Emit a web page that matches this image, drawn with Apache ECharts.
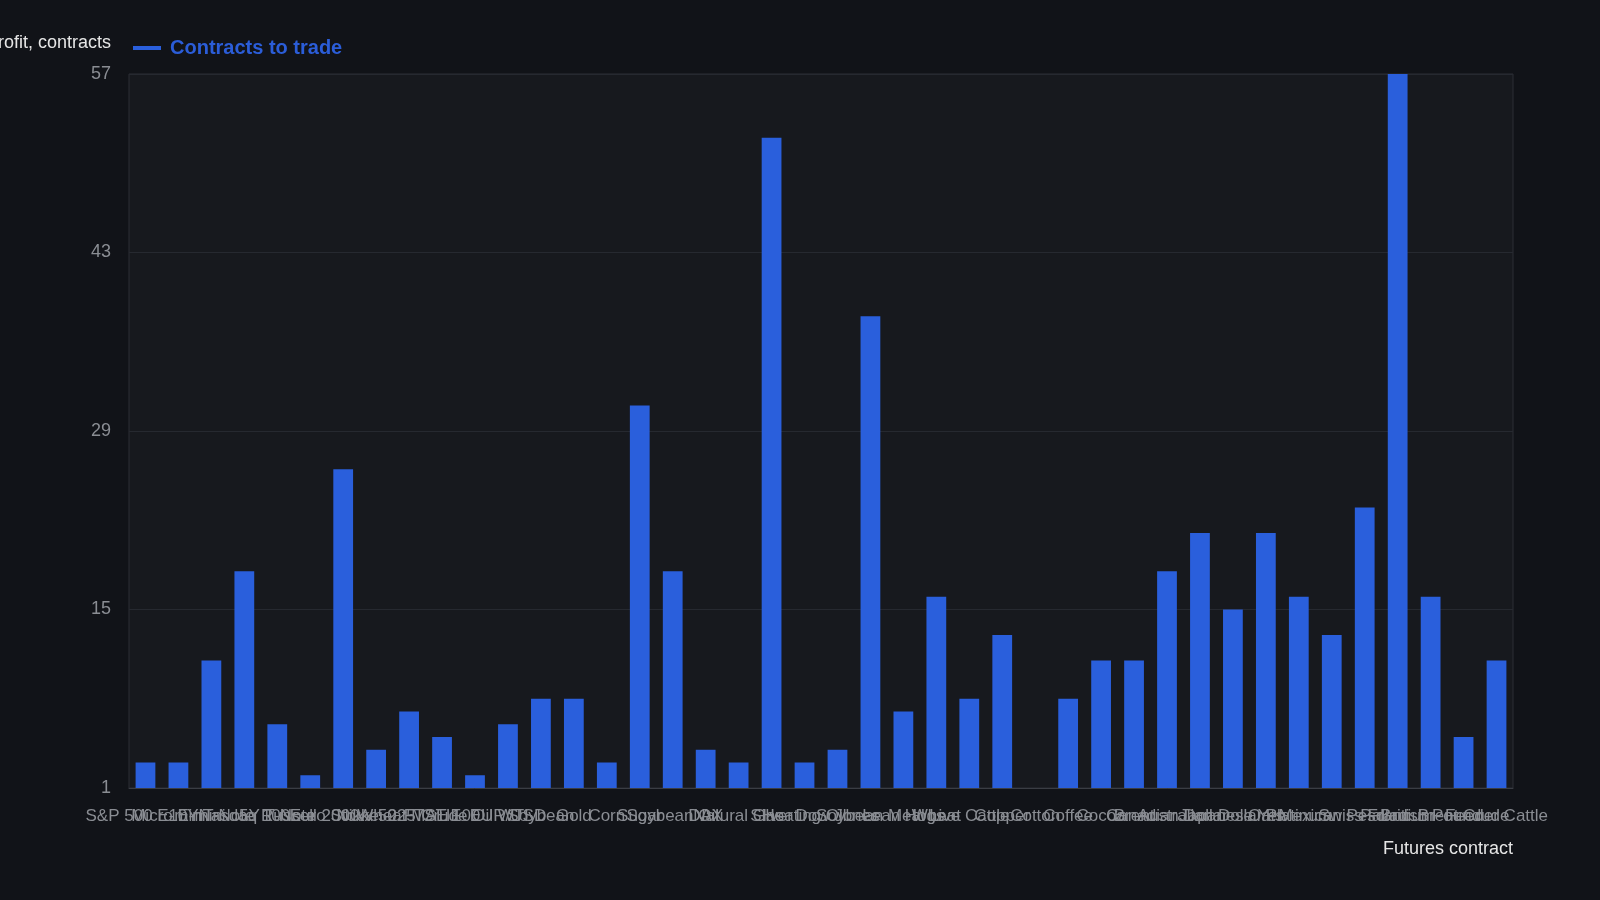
<!DOCTYPE html>
<html>
<head>
<meta charset="utf-8">
<script src="https://cdn.jsdelivr.net/npm/echarts@6/dist/echarts.min.js"></script>
<style>
  html, body { margin: 0; padding: 0; background: #111318; }
  #chart { width: 1600px; height: 900px; }
</style>
</head>
<body>
<div id="chart"></div>
<script>
// futures contracts on the x axis
const contracts = [
  'S&P 500 E-mini', 'Micro E-mini', '10Y T-Note', 'Nasdaq 100', '5Y T-Note', 'Russell 2000',
  'Euro Stoxx 50', 'Nikkei 225', 'Wheat MATIF', 'FTSE 100', 'Crude Oil WTI', 'EUR/USD',
  'Soybean', 'Gold', 'Corn', 'Sugar', 'Soybean Oil', 'DAX', 'Natural Gas', 'Silver',
  'Heating Oil', 'Dow Jones', 'Soybean Meal', 'Lean Hogs', 'Wheat', 'Live Cattle', 'Copper',
  'Cotton', 'Coffee', 'Cocoa', 'Brent', 'Canadian Dollar', 'Australian Dollar', 'Japanese Yen',
  'Oats', 'Platinum', 'Mexican Peso', 'Swiss Franc', 'Palladium', 'British Pound', 'Brent Crude',
  'Feeder Cattle'
];

// contracts to trade per instrument
const contractsToTrade = [
  3, 3, 11, 18, 6, 2, 26, 4, 7, 5, 2, 6,
  8, 8, 3, 31, 18, 4, 3, 52, 3, 4, 38, 7,
  16, 8, 13, 1, 8, 11, 11, 18, 21, 15, 21, 16,
  13, 23, 57, 16, 5, 11
];

const yTicks = { min: 1, max: 57, interval: 14 };

const chart = echarts.init(document.getElementById('chart'));

const option = {
  backgroundColor: '#111318',
  textStyle: { fontFamily: 'Liberation Sans, Arial, sans-serif' },
  legend: {
    left: 128,
    top: 33,
    icon: 'rect',
    itemWidth: 28,
    itemHeight: 4,
    textStyle: { color: '#2b5dd8', fontSize: 20, fontWeight: 'bold', padding: [0, 0, 0, 4] },
    data: ['Contracts to trade']
  },
  grid: {
    show: true,
    left: 129,
    right: 87,
    top: 74,
    bottom: 112,
    outerBoundsMode: 'none',
    containLabel: false,
    backgroundColor: '#17191e',
    borderColor: '#2c2f35',
    borderWidth: 1
  },
  xAxis: {
    type: 'category',
    data: contracts,
    name: 'Futures contract',
    nameLocation: 'end',
    nameGap: 0,
    nameTextStyle: {
      color: '#e6e6e6',
      fontSize: 18,
      align: 'right',
      verticalAlign: 'top',
      padding: [52, 0, 0, 0]
    },
    axisLine: { lineStyle: { color: '#3a3d44' } },
    axisTick: { show: false },
    axisLabel: { interval: 0, color: '#8a8d93', fontSize: 17, margin: 20 }
  },
  yAxis: {
    type: 'value',
    min: yTicks.min,
    max: yTicks.max,
    interval: yTicks.interval,
    name: 'Contracts to reach target profit, contracts',
    nameLocation: 'end',
    nameGap: 31,
    nameTextStyle: {
      color: '#e6e6e6',
      fontSize: 18,
      align: 'right',
      verticalAlign: 'middle',
      padding: [0, 18, 0, 0]
    },
    axisLine: { show: false },
    axisTick: { show: false },
    axisLabel: { color: '#8a8d93', fontSize: 18, margin: 18 },
    splitLine: { lineStyle: { color: '#262930' } }
  },
  series: [{
    name: 'Contracts to trade',
    type: 'bar',
    data: contractsToTrade,
    barWidth: '60%',
    itemStyle: { color: '#2a5fdc' }
  }]
};

chart.setOption(option);
window.addEventListener('resize', function () {
  chart.resize();
});
</script>
</body>
</html>
